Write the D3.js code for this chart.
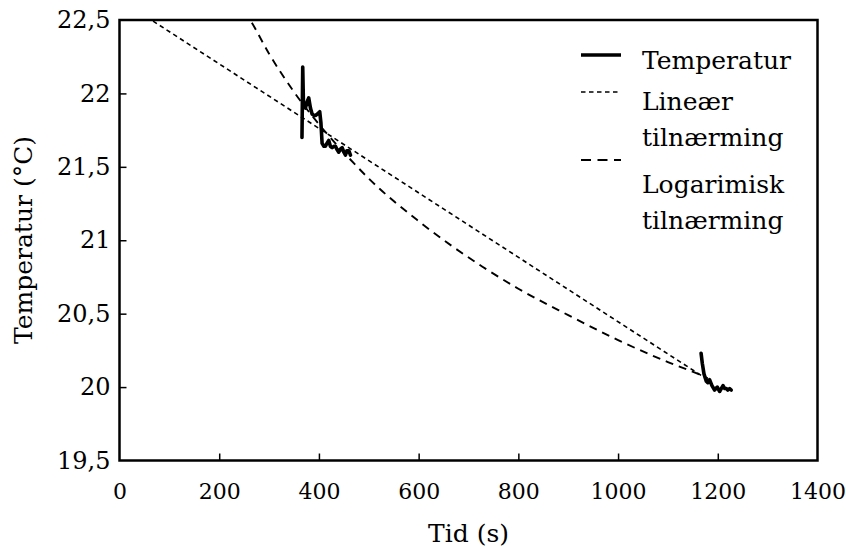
<!DOCTYPE html>
<html>
<head>
<meta charset="utf-8">
<script src="https://cdn.jsdelivr.net/npm/d3@7"></script>
<style>
  html, body { margin: 0; padding: 0; background: #fff; }
</style>
</head>
<body>
<svg id="chart" width="846" height="550"></svg>
<script>
// Measured temperature, first interval (s, °C)
const tempTime1 = [366, 367.5, 369, 372.9, 376, 379.5, 383, 386.3, 390, 393, 397, 401.6, 404, 406.4, 410, 413, 416, 419.7, 423, 426.5, 430, 433.2, 436, 439.8, 443, 446.6, 450, 453.3, 456, 459.9, 463.3];
const tempValue1 = [21.70, 22.18, 21.93, 21.90, 21.94, 21.97, 21.90, 21.86, 21.85, 21.85, 21.86, 21.875, 21.80, 21.66, 21.64, 21.64, 21.66, 21.68, 21.64, 21.63, 21.64, 21.64, 21.62, 21.60, 21.62, 21.63, 21.60, 21.58, 21.61, 21.61, 21.58];
// Measured temperature, second interval
const tempTime2 = [1166.5, 1169, 1172.3, 1176.9, 1180, 1183.5, 1188.3, 1193.6, 1196, 1199, 1203.6, 1207, 1210.5, 1214, 1217.1, 1220, 1223.7, 1227];
const tempValue2 = [20.23, 20.16, 20.09, 20.04, 20.03, 20.05, 20.01, 19.98, 19.99, 20.00, 19.97, 19.99, 20.01, 19.99, 19.99, 19.98, 19.99, 19.98];
// Linear approximation
const linTime = [0, 1180];
const linValue = [22.64, 20.05];
// Logarithmic approximation
const logTime = [250, 262, 300, 350, 400, 463, 500, 600, 728, 800, 900, 1000, 1100, 1167, 1180];
const logValue = [22.56, 22.5, 22.27, 22.01, 21.79, 21.55, 21.42, 21.13, 20.82, 20.67, 20.49, 20.32, 20.17, 20.08, 20.06];

const xTicks = [0, 200, 400, 600, 800, 1000, 1200, 1400];
const yTicks = [19.5, 20, 20.5, 21, 21.5, 22, 22.5];
const legendNames = ["Temperatur", "Lineær", "tilnærming", "Logarimisk", "tilnærming"];

const plotLeft = 119.5, plotRight = 817.5, plotTop = 20, plotBottom = 460.5;
const fontFamily = "'DejaVu Serif', 'Liberation Serif', serif";
const fontSize = 25;

const svg = d3.select("#chart");
const x = d3.scaleLinear().domain([0, 1400]).range([plotLeft, plotRight]);
const y = d3.scaleLinear().domain([19.5, 22.5]).range([plotBottom, plotTop]);
const fmt = d => String(d).replace(".", ",");
const styleText = (sel, size = fontSize) => sel.style("font-family", fontFamily).style("font-size", size + "px")
  .style("fill", "#000").style("font-weight", "normal");

svg.append("clipPath").attr("id", "plotClip")
  .append("rect").attr("x", plotLeft).attr("y", plotTop)
  .attr("width", plotRight - plotLeft).attr("height", plotBottom - plotTop);

// Axes with inward ticks
const xAxis = svg.append("g").attr("transform", `translate(0,${plotBottom})`)
  .call(d3.axisBottom(x).tickValues(xTicks).tickSizeInner(-7).tickSizeOuter(0).tickPadding(23).tickFormat(fmt));
const yAxis = svg.append("g").attr("transform", `translate(${plotLeft},0)`)
  .call(d3.axisLeft(y).tickValues(yTicks).tickSizeInner(-7).tickSizeOuter(0).tickPadding(9).tickFormat(fmt));
[[xAxis, 22], [yAxis, 24]].forEach(([g, size]) => {
  g.attr("font-family", null).attr("font-size", null);
  g.select(".domain").remove();
  g.selectAll(".tick line").attr("stroke", "#000").attr("stroke-width", 1.5);
  g.selectAll(".tick text").call(styleText, size);
});
yAxis.selectAll(".tick").filter(d => d === 19.5 || d === 22.5).select("line").remove();
xAxis.selectAll(".tick").filter(d => d === 0 || d === 1400).select("line").remove();

// Frame
svg.append("rect").attr("x", plotLeft).attr("y", plotTop)
  .attr("width", plotRight - plotLeft).attr("height", plotBottom - plotTop)
  .attr("fill", "none").attr("stroke", "#000").attr("stroke-width", 2.5);

// Axis titles
svg.append("text").attr("x", (plotLeft + plotRight) / 2).attr("y", 542)
  .attr("text-anchor", "middle").call(styleText).text("Tid (s)");
svg.append("text").attr("transform", "translate(32,240) rotate(-90)")
  .attr("text-anchor", "middle").call(styleText).text("Temperatur (°C)");

const line = d3.line().x(d => x(d[0])).y(d => y(d[1]));
const plot = svg.append("g").attr("clip-path", "url(#plotClip)");

plot.append("path").datum(d3.zip(linTime, linValue))
  .attr("d", line).attr("fill", "none").attr("stroke", "#000")
  .attr("stroke-width", 1.6).attr("stroke-dasharray", "4.5,3.5");
plot.append("path").datum(d3.zip(logTime, logValue))
  .attr("d", line.curve(d3.curveMonotoneX)).attr("fill", "none").attr("stroke", "#000")
  .attr("stroke-width", 1.9).attr("stroke-dasharray", "8,6");
line.curve(d3.curveLinear);
[[tempTime1, tempValue1], [tempTime2, tempValue2]].forEach(([t, v]) => {
  plot.append("path").datum(d3.zip(t, v))
    .attr("d", line).attr("fill", "none").attr("stroke", "#000")
    .attr("stroke-width", 3.6).attr("stroke-linejoin", "round").attr("stroke-linecap", "round");
});

// Legend
const lg = svg.append("g");
const legendLines = [
  { y: 55, width: 3.5, dash: null },
  { y: 92, width: 1.6, dash: "4.5,3.5" },
  { y: 160, width: 1.9, dash: "10,6.5" }
];
legendLines.forEach(s => {
  lg.append("line").attr("x1", 581).attr("x2", 621).attr("y1", s.y).attr("y2", s.y)
    .attr("stroke", "#000").attr("stroke-width", s.width)
    .attr("stroke-dasharray", s.dash);
});
const legendBaselines = [69, 110, 146, 193, 229];
legendNames.forEach((name, i) => {
  lg.append("text").attr("x", 642).attr("y", legendBaselines[i])
    .call(styleText).text(name);
});
</script>
</body>
</html>
